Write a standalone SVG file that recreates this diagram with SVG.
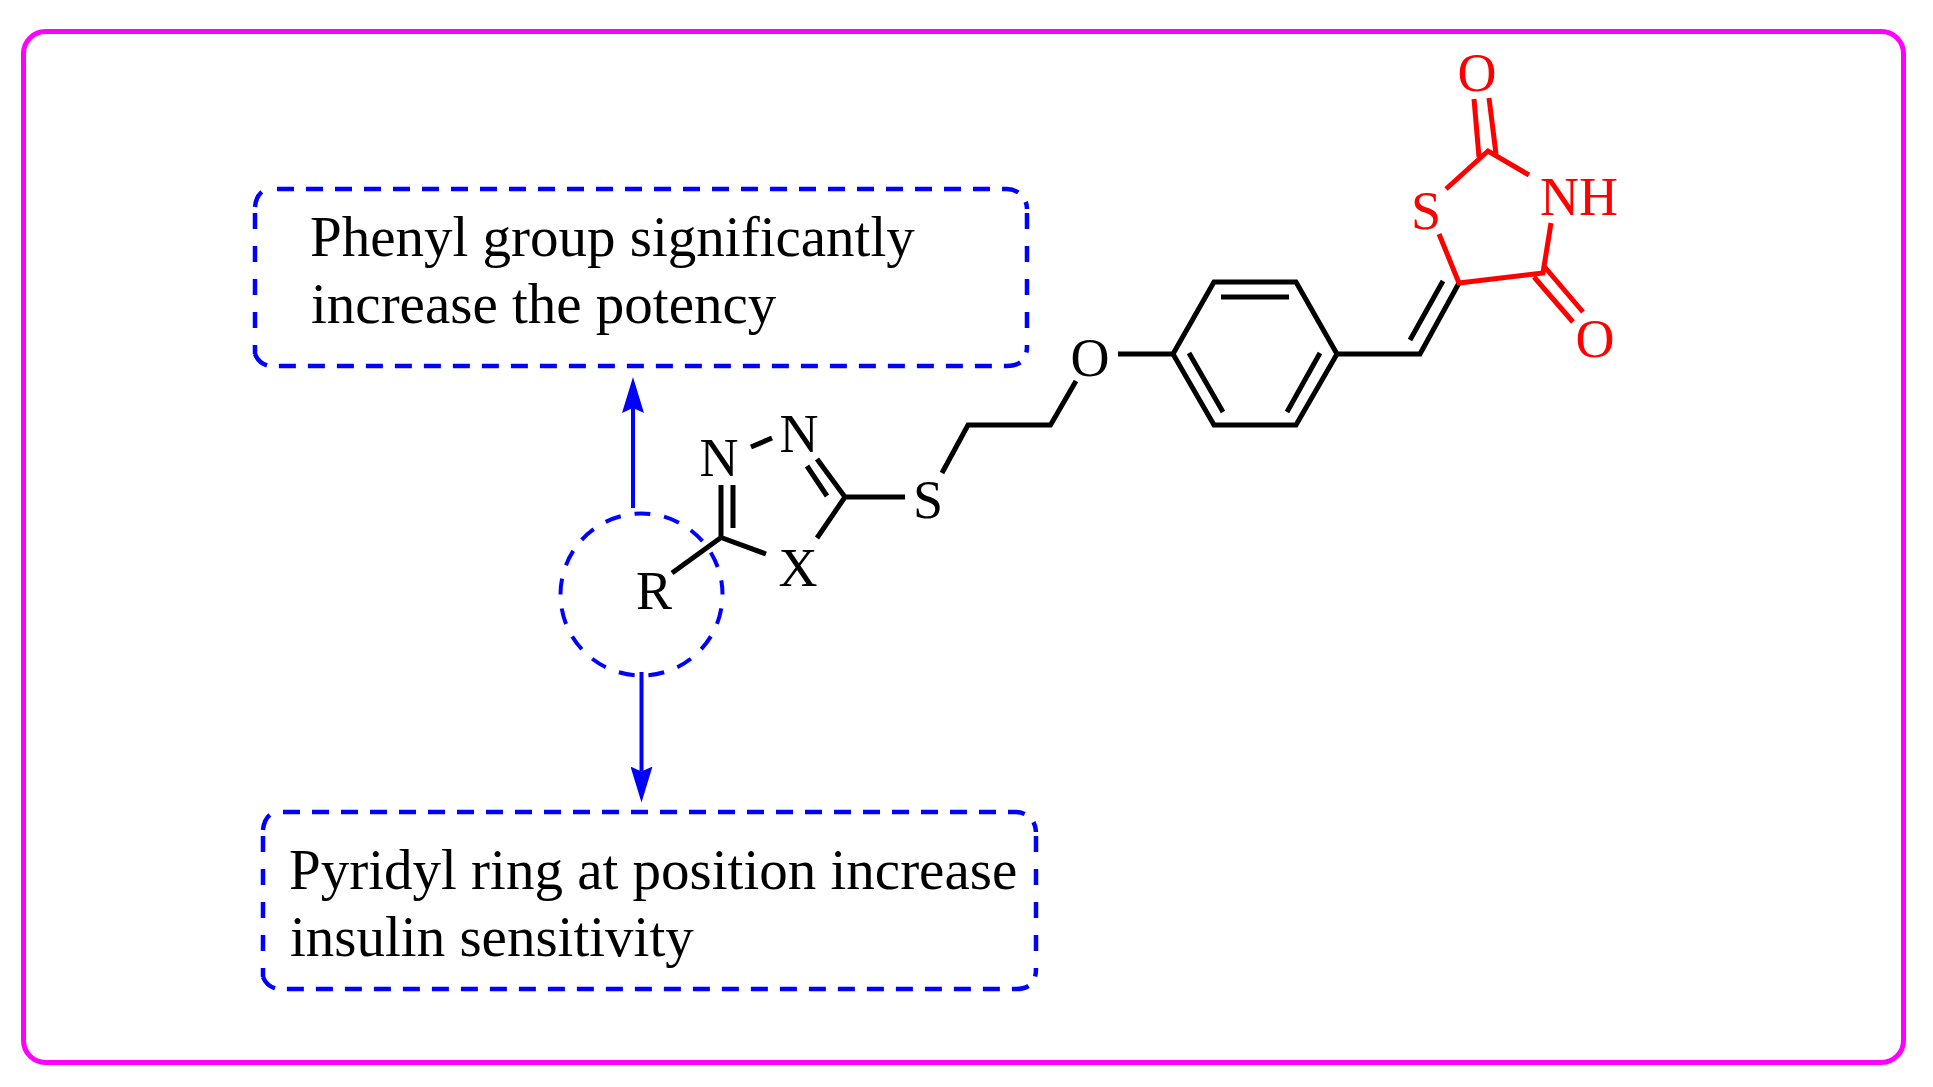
<svg xmlns="http://www.w3.org/2000/svg" width="1933" height="1087" viewBox="0 0 1933 1087">
<style>
.b{fill:none;stroke:#000;stroke-width:5;stroke-linecap:butt;stroke-linejoin:miter}
.r{fill:none;stroke:#f00;stroke-width:5}
.dh{fill:none;stroke:#00f;stroke-width:4.5;stroke-dasharray:17 12}
.dv{fill:none;stroke:#00f;stroke-width:4.5;stroke-dasharray:16 17}
.dc{fill:none;stroke:#00f;stroke-width:4;stroke-dasharray:16 14;stroke-dashoffset:16}
.a{fill:none;stroke:#00f;stroke-width:4}
text{font-family:"Liberation Serif","Times New Roman",serif}
.t{font-size:57px;fill:#000}
.l{font-size:54px;fill:#000;text-anchor:middle}
.lr{font-size:54px;fill:#f00;text-anchor:middle}
</style>
<defs>
<marker id="head" markerUnits="userSpaceOnUse" viewBox="0 0 36 22" markerWidth="36" markerHeight="22" refX="5" refY="11" orient="auto"><path d="M0,0L36,11L0,22L5,11z" fill="#00f"/></marker>
</defs>
<rect width="1933" height="1087" fill="#fff"/>
<rect id="border" x="23.5" y="31.5" width="1880" height="1031" rx="22" fill="none" stroke="#f0f" stroke-width="5"/>
<g id="box-phenyl">
<path class="dh" d="M277,189H1007A20,20 0 0 1 1027,209M255,354A20,20 0 0 0 269,366H1007Q1027,366 1027,346"/>
<path class="dv" d="M255,213V354M1027,213V346"/>
<path class="dh" d="M255,207Q256,194 266,189" stroke-dasharray="none"/>
<text class="t" x="310" y="256">Phenyl group significantly</text>
<text class="t" x="311" y="323">increase the potency</text>
</g>
<g id="box-pyridyl">
<path class="dh" d="M283,812H1016A20,20 0 0 1 1036,832M263,977A20,20 0 0 0 277,989H1016Q1036,989 1036,969"/>
<path class="dv" d="M263,836V977M1036,836V969"/>
<path class="dh" d="M263,830Q264,817 274,812" stroke-dasharray="none"/>
<text class="t" x="289" y="889">Pyridyl ring at position increase</text>
<text class="t" x="290" y="956">insulin sensitivity</text>
</g>
<g id="highlight-circle">
<ellipse class="dc" cx="641.5" cy="594.5" rx="81" ry="81"/>
</g>
<g id="connectors">
<line class="a" x1="633" y1="508" x2="633" y2="408" marker-end="url(#head)"/>
<line class="a" x1="641.5" y1="672" x2="641.5" y2="771.5" marker-end="url(#head)"/>
</g>
<g id="molecule-core">
<path class="b" d="M721,485V537.5M733,485V528M766,554L721,537.5L672,573M751,447L772,438M817,459L845,497L817,538M807,466L827,496M845,497H905M942,473L968,425H1050.5L1076,381M1118,354H1173M1173,354L1214,282H1296L1337,354L1296,425H1214Z M1221,297H1289M1189,353L1223,412M1320,353L1287,412M1337,354H1420L1459,283M1410,340L1443,281"/>
<text class="l" x="719" y="476">N</text>
<text class="l" x="799" y="452">N</text>
<text class="l" x="928" y="518">S</text>
<text class="l" x="798" y="586">X</text>
<text class="l" x="654" y="609">R</text>
<text class="l" x="1090" y="376">O</text>
</g>
<g id="molecule-tzd">
<path class="r" d="M1439,234L1459,283L1543,273L1551,223M1446,189L1488,151L1529,175M1479,157L1474,99M1496,154L1489,98M1543,265L1583,312M1534,277L1573,322"/>
<text class="lr" x="1426" y="229">S</text>
<text class="lr" x="1579" y="215">NH</text>
<text class="lr" x="1477" y="91">O</text>
<text class="lr" x="1595" y="357">O</text>
</g>
</svg>
